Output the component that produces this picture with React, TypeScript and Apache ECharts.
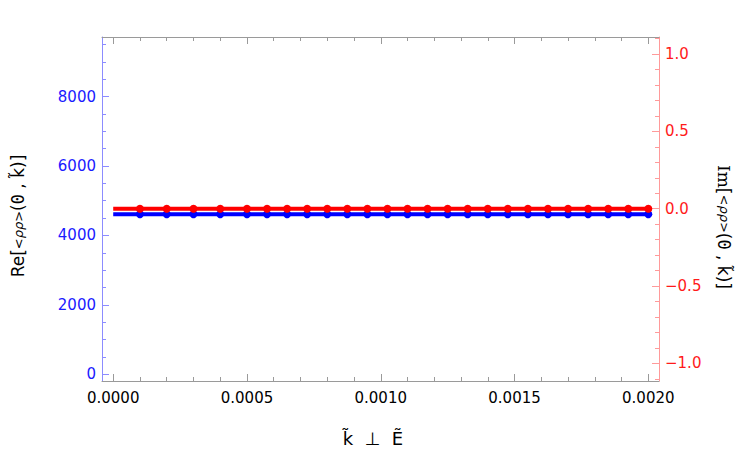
import React, { useEffect, useRef } from "react";
import * as echarts from "echarts";

// ---- data ----
const kValues = [
  0, 0.0001, 0.0002, 0.0003, 0.0004, 0.0005, 0.000575, 0.00065, 0.000725, 0.0008,
  0.000875, 0.00095, 0.001025, 0.0011, 0.001175, 0.00125, 0.001325, 0.0014, 0.001475,
  0.00155, 0.001625, 0.0017, 0.001775, 0.00185, 0.001925, 0.002,
];
const reValues = [
  4610, 4610, 4610, 4610, 4610, 4610, 4610, 4610, 4610, 4610, 4610, 4610, 4610,
  4610, 4610, 4610, 4610, 4610, 4610, 4610, 4610, 4610, 4610, 4610, 4610, 4610,
];
const imValues = [
  0, 0, 0, 0, 0, 0, 0, 0, 0, 0, 0, 0, 0,
  0, 0, 0, 0, 0, 0, 0, 0, 0, 0, 0, 0, 0,
];
const xTickLabels = [0, 0.0005, 0.001, 0.0015, 0.002];
const xMinorTicks = [
  0.0001, 0.0002, 0.0003, 0.0004, 0.0006, 0.0007, 0.0008, 0.0009, 0.0011, 0.0012,
  0.0013, 0.0014, 0.0016, 0.0017, 0.0018, 0.0019,
];
const reTickLabels = [0, 2000, 4000, 6000, 8000];
const reMinorTicks = [500, 1000, 1500, 2500, 3000, 3500, 4500, 5000, 5500, 6500, 7000, 7500, 8500, 9000, 9500];
const imTickLabels = [-1, -0.5, 0, 0.5, 1];
const imMinorTicks = [
  -1.1, -0.9, -0.8, -0.7, -0.6, -0.4, -0.3, -0.2, -0.1, 0.1, 0.2, 0.3, 0.4, 0.6, 0.7,
  0.8, 0.9, 1.1,
];

const X_MIN = -0.0000419;
const X_MAX = 0.00204;
const RE_MIN = -193;
const RE_MAX = 9717;
const IM_MIN = -1.114;
const IM_MAX = 1.11;

const FRAME = "#9a9a9a";
const BLUE_AXIS = "#8c8cff";
const RED_AXIS = "#ff9a9a";
const FONT = "DejaVu Sans";

function buildOption() {
  const reData = kValues.map((k, i) =>
    i === 0 ? { value: [k, reValues[i]], symbol: "none" } : [k, reValues[i]]
  );
  const imData = kValues.map((k, i) =>
    i === 0 ? { value: [k, imValues[i]], symbol: "none" } : [k, imValues[i]]
  );

  const xBase = (position: string) => ({
    type: "value",
    position,
    min: X_MIN,
    max: X_MAX,
    splitLine: { show: false },
  });
  const yBase = (position: string, min: number, max: number) => ({
    type: "value",
    position,
    min,
    max,
    splitLine: { show: false },
  });

  const titleRich = {
    m: { fontSize: 17, fontFamily: "DejaVu Serif", fill: "#000" },
    a: { fontSize: 17, fontFamily: FONT, fill: "#000" },
    s: { fontSize: 13, fontFamily: FONT, fill: "#000" },
    r: { fontSize: 13, fontFamily: FONT, fontStyle: "italic", fill: "#000" },
    z: { fontSize: 17, fontFamily: "DejaVu Sans Mono", fill: "#000" },
  };

  return {
    animation: false,
    backgroundColor: "#ffffff",
    grid: { left: 102, right: 88, top: 37, bottom: 73, containLabel: false },
    xAxis: [
      {
        ...xBase("bottom"),
        axisLine: { show: true, onZero: false, lineStyle: { color: FRAME, width: 1 } },
        axisTick: {
          show: true,
          inside: true,
          length: 7,
          customValues: xTickLabels,
          lineStyle: { color: FRAME },
        },
        axisLabel: {
          show: true,
          customValues: xTickLabels,
          margin: 9,
          color: "#000",
          fontSize: 15,
          fontFamily: FONT,
          formatter: (v: number) => v.toFixed(4),
        },
      },
      {
        ...xBase("bottom"),
        axisLine: { show: false, onZero: false },
        axisTick: {
          show: true,
          inside: true,
          length: 4,
          customValues: xMinorTicks,
          lineStyle: { color: FRAME },
        },
        axisLabel: { show: false },
      },
      {
        ...xBase("top"),
        axisLine: { show: true, onZero: false, lineStyle: { color: FRAME, width: 1 } },
        axisTick: {
          show: true,
          inside: true,
          length: 7,
          customValues: xTickLabels,
          lineStyle: { color: FRAME },
        },
        axisLabel: { show: false },
      },
      {
        ...xBase("top"),
        axisLine: { show: false, onZero: false },
        axisTick: {
          show: true,
          inside: true,
          length: 4,
          customValues: xMinorTicks,
          lineStyle: { color: FRAME },
        },
        axisLabel: { show: false },
      },
    ],
    yAxis: [
      {
        ...yBase("left", RE_MIN, RE_MAX),
        axisLine: { show: true, onZero: false, lineStyle: { color: BLUE_AXIS, width: 1 } },
        axisTick: {
          show: true,
          inside: true,
          length: 7,
          customValues: reTickLabels,
          lineStyle: { color: BLUE_AXIS },
        },
        axisLabel: {
          show: true,
          customValues: reTickLabels,
          margin: 6,
          color: "#1a1aff",
          fontSize: 15,
          fontFamily: FONT,
          formatter: (v: number) => String(v),
        },
      },
      {
        ...yBase("right", IM_MIN, IM_MAX),
        axisLine: { show: true, onZero: false, lineStyle: { color: RED_AXIS, width: 1 } },
        axisTick: {
          show: true,
          inside: true,
          length: 7,
          customValues: imTickLabels,
          lineStyle: { color: RED_AXIS },
        },
        axisLabel: {
          show: true,
          customValues: imTickLabels,
          margin: 6,
          color: "#ff1a1a",
          fontSize: 15,
          fontFamily: FONT,
          formatter: (v: number) => v.toFixed(1).replace("-", "\u2212"),
        },
      },
      {
        ...yBase("left", RE_MIN, RE_MAX),
        axisLine: { show: false, onZero: false },
        axisTick: {
          show: true,
          inside: true,
          length: 4,
          customValues: reMinorTicks,
          lineStyle: { color: BLUE_AXIS },
        },
        axisLabel: { show: false },
      },
      {
        ...yBase("right", IM_MIN, IM_MAX),
        axisLine: { show: false, onZero: false },
        axisTick: {
          show: true,
          inside: true,
          length: 4,
          customValues: imMinorTicks,
          lineStyle: { color: RED_AXIS },
        },
        axisLabel: { show: false },
      },
    ],
    series: [
      {
        name: "Re",
        type: "line",
        xAxisIndex: 0,
        yAxisIndex: 0,
        data: reData,
        symbol: "circle",
        symbolSize: 8,
        lineStyle: { color: "#0000ff", width: 4 },
        itemStyle: { color: "#0000ff" },
        z: 3,
      },
      {
        name: "Im",
        type: "line",
        xAxisIndex: 0,
        yAxisIndex: 1,
        data: imData,
        symbol: "circle",
        symbolSize: 8,
        lineStyle: { color: "#ff0000", width: 4 },
        itemStyle: { color: "#ff0000" },
        z: 4,
      },
    ],
    graphic: [
      {
        type: "text",
        x: 18,
        y: 216,
        rotation: Math.PI / 2,
        style: {
          text: "{a|Re[}{s|<}{r|ρρ}{s|>}{a|(}{z|0}{a| , k\u0303)]}",
          align: "center",
          verticalAlign: "middle",
          fill: "#000",
          rich: titleRich,
        },
      },
      {
        type: "text",
        x: 724,
        y: 227,
        rotation: -Math.PI / 2,
        style: {
          text: "{m|Im}{a|[}{s|<}{r|ρρ}{s|>}{a|(}{z|0}{a| , k\u0303)]}",
          align: "center",
          verticalAlign: "middle",
          fill: "#000",
          rich: titleRich,
        },
      },
      {
        type: "text",
        x: 373,
        y: 438,
        style: {
          text: "k\u0303  \u22a5  \u1ebc",
          align: "center",
          verticalAlign: "middle",
          fontSize: 18,
          fontFamily: FONT,
          fill: "#000",
        },
      },
    ],
  };
}

export default function App() {
  const ref = useRef<HTMLDivElement>(null);
  useEffect(() => {
    document.body.style.margin = "0";
    if (!ref.current) return;
    const chart = echarts.init(ref.current, undefined, { renderer: "svg" });
    chart.setOption(buildOption() as any);
    return () => {
      chart.dispose();
    };
  }, []);
  return <div ref={ref} style={{ width: 747, height: 454 }} />;
}
